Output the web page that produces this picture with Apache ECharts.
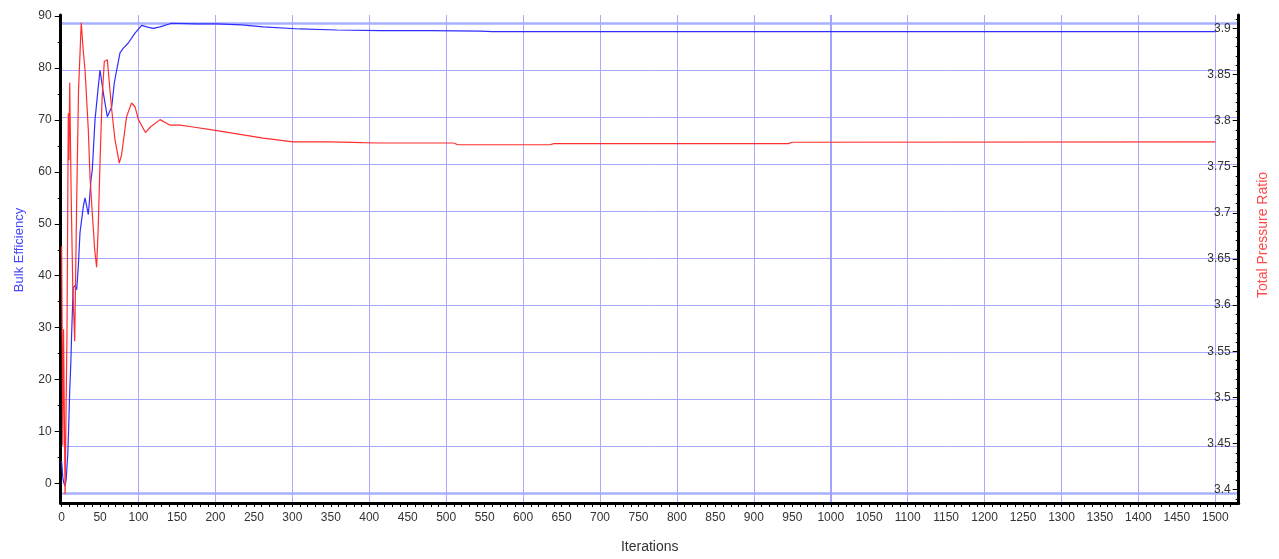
<!DOCTYPE html>
<html>
<head>
<meta charset="utf-8">
<script src="https://cdn.jsdelivr.net/npm/echarts@6/dist/echarts.min.js"></script>
<style>
html,body{margin:0;padding:0;background:#ffffff;}
#chart{width:1279px;height:559px;}
</style>
</head>
<body>
<div id="chart"></div>
<script>
// ---- data ----
const blueIter = [0, 1.5, 3, 4.5, 6, 8, 9.5, 10.5, 12, 13, 15, 17.5, 19.6, 21.7, 23.9, 28.2, 30.4, 34.7, 36, 38.2, 39.9, 43.4, 47.7, 49.9, 54.2, 59.4, 65.1, 68.5, 71.6, 75.9, 80.2, 86.7, 95.4, 104.1, 110.6, 119.2, 127.9, 143, 175.6, 201.6, 234, 262, 310, 358, 414, 480, 545, 560, 1000, 1500];
const bulkEfficiency = [4.3, 1.2, 0.1, -0.5, 0.9, 5.7, 12.4, 17.8, 23.3, 28.7, 37.7, 38.1, 37.3, 41.8, 48.3, 53.3, 55.0, 51.8, 54.1, 58.5, 60.4, 70.0, 76.4, 79.6, 75.2, 70.6, 72.5, 77.1, 79.6, 82.9, 83.8, 84.8, 86.7, 88.2, 87.9, 87.6, 87.9, 88.6, 88.5, 88.5, 88.3, 87.9, 87.5, 87.3, 87.2, 87.2, 87.1, 87.0, 87.0, 87.0];

const redIter = [0, 1.5, 2.5, 4.5, 7, 8.7, 9.5, 10.5, 12.5, 14.5, 17, 19.6, 22, 25.5, 28, 30.4, 34.7, 36.9, 40, 43, 45.5, 47.5, 50, 52.5, 55.5, 59.4, 65.1, 69.4, 75, 78, 84.4, 90.9, 95.4, 99.8, 109, 115.5, 128, 141, 154, 171, 202, 232, 262, 301, 349, 392, 410, 510, 515, 635, 640, 945, 950, 1500];
const totalPressureRatio = [3.664, 3.448, 3.574, 3.395, 3.574, 3.808, 3.757, 3.841, 3.714, 3.620, 3.561, 3.714, 3.833, 3.906, 3.877, 3.855, 3.790, 3.739, 3.698, 3.660, 3.641, 3.682, 3.757, 3.822, 3.864, 3.866, 3.812, 3.779, 3.754, 3.763, 3.804, 3.819, 3.815, 3.801, 3.787, 3.793, 3.801, 3.795, 3.795, 3.793, 3.789, 3.785, 3.781, 3.777, 3.777, 3.776, 3.7757, 3.7757, 3.7738, 3.7738, 3.775, 3.775, 3.7765, 3.777];

// ---- tick labels ----
const xTickLabels = [0, 50, 100, 150, 200, 250, 300, 350, 400, 450, 500, 550, 600, 650, 700, 750, 800, 850, 900, 950, 1000, 1050, 1100, 1150, 1200, 1250, 1300, 1350, 1400, 1450, 1500];
const leftTickLabels = [0, 10, 20, 30, 40, 50, 60, 70, 80, 90];
const rightTickLabels = [3.4, 3.45, 3.5, 3.55, 3.6, 3.65, 3.7, 3.75, 3.8, 3.85, 3.9];
const xGridValues = [0, 100, 200, 300, 400, 500, 600, 700, 800, 900, 1000, 1100, 1200, 1300, 1400, 1500];
const yGridValues = [3.39641, 3.44731, 3.49821, 3.54911, 3.60001, 3.65091, 3.70181, 3.75271, 3.80361, 3.85451, 3.90541];

// ---- axis ranges ----
const X_MIN = -1.2, X_MAX = 1530.4;
const L_MIN = -3.746, L_MAX = 90.19;
const R_MIN = 3.38562, R_MAX = 3.91438;

const xMinorTicks = [];
for (let v = 0; v <= 1520; v += 10) xMinorTicks.push(v);
const leftMinorTicks = [];
for (let v = 0; v <= 90; v += 5) leftMinorTicks.push(v);
const rightMinorTicks = [];
for (let i = 339; i <= 391; i++) rightMinorTicks.push(i / 100);

const FONT = 'Liberation Sans, Arial, sans-serif';
const GRID_COLOR = '#a9a9ff';

function hiddenAxis(base, extra) {
  return Object.assign({
    type: 'value',
    axisLine: { show: false, onZero: false },
    axisTick: { show: false },
    axisLabel: { show: false },
    splitLine: { show: false }
  }, base, extra);
}

const chart = echarts.init(document.getElementById('chart'), null, { renderer: 'canvas' });

const option = {
  animation: false,
  backgroundColor: '#ffffff',
  grid: { left: 60.7, right: 40.3, top: 15, bottom: 55 },
  xAxis: [
    {
      type: 'value', min: X_MIN, max: X_MAX, position: 'bottom',
      name: 'Iterations', nameLocation: 'middle', nameGap: 37,
      nameTextStyle: { color: '#333333', fontSize: 14, fontFamily: FONT },
      axisLine: { onZero: false, lineStyle: { color: '#000000', width: 3 } },
      axisTick: { customValues: xMinorTicks, length: 4, lineStyle: { color: '#000000', width: 1 } },
      axisLabel: { customValues: xTickLabels, color: '#333333', fontSize: 12, fontFamily: FONT, margin: 9,
        formatter: v => String(v) },
      splitLine: { show: false }
    },
    hiddenAxis({ min: X_MIN, max: X_MAX, position: 'bottom' }, {
      axisTick: { show: false, customValues: xGridValues },
      splitLine: { show: true, lineStyle: { color: GRID_COLOR, width: 1 } }
    }),
    hiddenAxis({ min: X_MIN, max: X_MAX, position: 'bottom' }, {
      axisTick: { show: false, customValues: [1000] },
      splitLine: { show: true, lineStyle: { color: '#a3a3ff', width: 2 } }
    })
  ],
  yAxis: [
    {
      type: 'value', min: L_MIN, max: L_MAX, position: 'left',
      name: 'Bulk Efficiency', nameLocation: 'middle', nameGap: 35, nameRotate: 90,
      nameTextStyle: { color: '#4646ff', fontSize: 13, fontFamily: FONT, padding: [0, 0, 0, 18] },
      axisLine: { onZero: false, lineStyle: { color: '#000000', width: 3 } },
      axisTick: { customValues: leftTickLabels, length: 6, lineStyle: { color: '#000000', width: 1 } },
      axisLabel: { customValues: leftTickLabels, color: '#333333', fontSize: 12, fontFamily: FONT, margin: 9,
        formatter: v => String(v) },
      splitLine: { show: false }
    },
    {
      type: 'value', min: R_MIN, max: R_MAX, position: 'right',
      name: 'Total Pressure Ratio', nameLocation: 'middle', nameGap: 17, nameRotate: 90,
      nameTextStyle: { color: '#ff4a4a', fontSize: 14, fontFamily: FONT, padding: [0, 0, 0, 48] },
      axisLine: { onZero: false, lineStyle: { color: '#000000', width: 3 } },
      axisTick: { customValues: rightTickLabels, inside: true, length: 6, lineStyle: { color: '#000000', width: 1 } },
      axisLabel: { customValues: rightTickLabels, inside: true, color: '#333333', fontSize: 12, fontFamily: FONT, margin: 8,
        formatter: v => String(Math.round(v * 100) / 100) },
      splitLine: { show: false }
    },
    hiddenAxis({ min: L_MIN, max: L_MAX, position: 'left' }, {
      axisTick: { show: true, customValues: leftMinorTicks, length: 3, lineStyle: { color: '#000000', width: 1 } }
    }),
    hiddenAxis({ min: R_MIN, max: R_MAX, position: 'right' }, {
      axisTick: { show: true, inside: true, customValues: rightMinorTicks, length: 3, lineStyle: { color: '#000000', width: 1 } }
    }),
    hiddenAxis({ min: R_MIN, max: R_MAX, position: 'right' }, {
      axisTick: { show: false, customValues: yGridValues },
      splitLine: { show: true, lineStyle: { color: GRID_COLOR, width: 1 } }
    }),
    hiddenAxis({ min: R_MIN, max: R_MAX, position: 'right' }, {
      axisTick: { show: false, customValues: [yGridValues[0], yGridValues[yGridValues.length - 1]] },
      splitLine: { show: true, lineStyle: { color: '#a9b0ff', width: 2.5 } }
    })
  ],
  series: [
    {
      name: 'Bulk Efficiency', type: 'line', xAxisIndex: 0, yAxisIndex: 0,
      showSymbol: false, symbol: 'none', sampling: null, z: 5,
      lineStyle: { color: '#2e2eff', width: 1.2 },
      data: blueIter.map((x, i) => [x, bulkEfficiency[i]])
    },
    {
      name: 'Total Pressure Ratio', type: 'line', xAxisIndex: 0, yAxisIndex: 1,
      showSymbol: false, symbol: 'none', sampling: null, z: 5,
      lineStyle: { color: '#ff2e2e', width: 1.2 },
      data: redIter.map((x, i) => [x, totalPressureRatio[i]])
    }
  ]
};
chart.setOption(option);
</script>
</body>
</html>
